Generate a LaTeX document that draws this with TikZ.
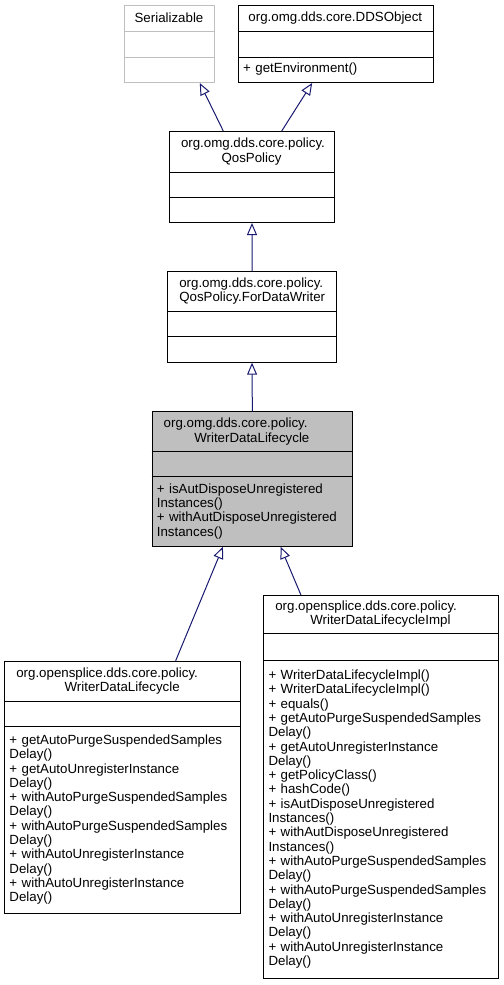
\documentclass[tikz,border=0pt]{standalone}
\usepackage{fontspec}
\setmainfont{Liberation Sans}
\usetikzlibrary{arrows.meta,calc}
\definecolor{edgeblue}{HTML}{191970}
\definecolor{basegray}{HTML}{BFBFBF}

\begin{document}
\begin{tikzpicture}[x=1bp,y=-1bp,
  every node/.style={font=\fontsize{13.3bp}{14.3bp}\selectfont,inner sep=0pt},
  classbox/.style={draw,line width=1bp,anchor=north west},
  classname/.style={align=center},
  classops/.style={align=left,anchor=west},
  inherit/.style={draw=edgeblue,line width=1bp,-{Triangle[open,length=12bp,width=10bp]}}]
\useasboundingbox (0,0) rectangle (504,985);

% frames with name, attribute and operation parts
\foreach \nm/\xl/\yt/\xr/\ya/\yb/\yc/\col/\bg in {%
  serial/124/5/214/31/57/82/basegray/white,
  dds/238/5/432.7/31/57/82/black/white,
  qos/169/131/334/172/197/222/black/white,
  fdw/167.3/271/335.7/311/336.7/361.7/black/white,
  wdl/151.7/411.3/352/451.7/476.7/545.7/black/basegray,
  ospl/4.3/660.7/240/701.7/726.7/912.7/black/white,
  impl/263.3/595/497.5/633.7/660/978.3/black/white}
{
  \node[classbox,draw=\col,fill=\bg,minimum width={(\xr-\xl)*1bp},minimum height={(\yc-\yt)*1bp}] (\nm) at (\xl,\yt) {};
  \draw[line width=1bp,\col] (\xl,\ya) -- (\xr,\ya) (\xl,\yb) -- (\xr,\yb);
}

% names
\node[classname] (serial-name) at (169,18) {Serializable};
\node[classname] (dds-name) at (335.35,18) {org.omg.dds.core.DDSObject};
\node[classname,text width=141bp] (qos-name) at (251.5,151.5)
  {\makebox[\linewidth][l]{org.omg.dds.core.policy.}\\QosPolicy};
\node[classname,text width=144.4bp] (fdw-name) at (251.5,291)
  {\makebox[\linewidth][l]{org.omg.dds.core.policy.}\\QosPolicy.ForDataWriter};
\node[classname,text width=176.3bp] (wdl-name) at (251.85,431.5)
  {\makebox[\linewidth][l]{org.omg.dds.core.policy.}\\WriterDataLifecycle};
\node[classname,text width=211.7bp] (ospl-name) at (122.15,681.2)
  {\makebox[\linewidth][l]{org.opensplice.dds.core.policy.}\\WriterDataLifecycle};
\node[classname,text width=210.2bp] (impl-name) at (380.4,614.35)
  {\makebox[\linewidth][l]{org.opensplice.dds.core.policy.}\\WriterDataLifecycleImpl};

% operations
\node[classops,text width=184.7bp] (dds-ops) at (243,69.5) {+ getEnvironment()};
\node[classops,text width=190.3bp] (wdl-ops) at (156.7,511.2)
  {+ isAutDisposeUnregistered\\Instances()\\+ withAutDisposeUnregistered\\Instances()};
\node[classops,text width=225.7bp] (ospl-ops) at (9.3,819.7)
  {+ getAutoPurgeSuspendedSamples\\Delay()\\+ getAutoUnregisterInstance\\Delay()\\
   + withAutoPurgeSuspendedSamples\\Delay()\\+ withAutoPurgeSuspendedSamples\\Delay()\\
   + withAutoUnregisterInstance\\Delay()\\+ withAutoUnregisterInstance\\Delay()};
\node[classops,text width=224.2bp] (impl-ops) at (268.3,819.15)
  {+ WriterDataLifecycleImpl()\\+ WriterDataLifecycleImpl()\\+ equals()\\
   + getAutoPurgeSuspendedSamples\\Delay()\\+ getAutoUnregisterInstance\\Delay()\\
   + getPolicyClass()\\+ hashCode()\\+ isAutDisposeUnregistered\\Instances()\\
   + withAutDisposeUnregistered\\Instances()\\+ withAutoPurgeSuspendedSamples\\Delay()\\
   + withAutoPurgeSuspendedSamples\\Delay()\\+ withAutoUnregisterInstance\\Delay()\\
   + withAutoUnregisterInstance\\Delay()};

% generalisations
\draw[inherit] ($(qos.north west)!.327!(qos.north east)$) -- ($(serial.south west)!.833!(serial.south east)$);
\draw[inherit] ($(qos.north west)!.679!(qos.north east)$) -- ($(dds.south west)!.379!(dds.south east)$);
\draw[inherit] (fdw.north) -- (qos.south);
\draw[inherit] (wdl.north) -- (fdw.south);
\draw[inherit] ($(ospl.north west)!.724!(ospl.north east)$) -- ($(wdl.south west)!.354!(wdl.south east)$);
\draw[inherit] ($(impl.north west)!.16!(impl.north east)$) -- ($(wdl.south west)!.64!(wdl.south east)$);
\end{tikzpicture}
\end{document}
